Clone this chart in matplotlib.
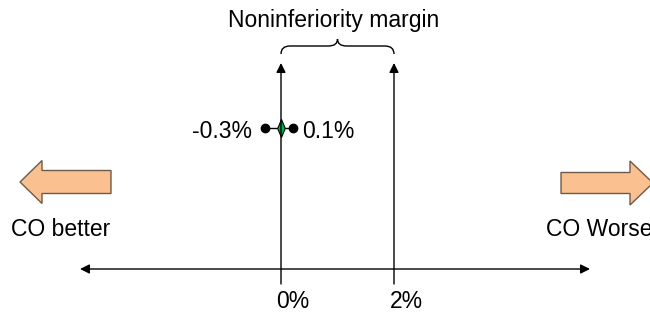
import numpy as np
import matplotlib
matplotlib.use("Agg")
import matplotlib.pyplot as plt
from matplotlib.patches import FancyArrow, PathPatch
from matplotlib.path import Path

plt.rcParams['font.family'] = ['Liberation Sans', 'DejaVu Sans']

# data (x in percent)
tick_values = [0, 2]
tick_labels = ['0%', '2%']
point_estimate = 0.0
ci_positions = [-0.28, 0.21]
ci_labels = ['-0.3%', '0.1%']
margin_label = 'Noninferiority margin'
side_labels = ['CO better', 'CO Worse']

# x: percent, y: pixel rows (inverted)
px_per_pct = 56.5
x0 = 281
fs = 16.5
fig = plt.figure(figsize=(6.5, 3.13), dpi=100)
ax = fig.add_axes([0, 0, 1, 1])
ax.set_xlim(-x0 / px_per_pct, (650 - x0) / px_per_pct)
ax.set_ylim(313, 0)
ax.axis('off')

def pct(px):
    return (px - x0) / px_per_pct

# horizontal axis with arrows at both ends
ax.annotate('', xy=(pct(590), 269), xytext=(pct(80), 269),
            arrowprops=dict(arrowstyle='<|-|>', color='black', lw=1,
                            mutation_scale=14, shrinkA=0, shrinkB=0))

# vertical lines at 0% and 2%
for v, lab in zip(tick_values, tick_labels):
    ax.annotate('', xy=(v, 63), xytext=(v, 284),
                arrowprops=dict(arrowstyle='-|>', color='black', lw=1,
                                mutation_scale=14, shrinkA=0, shrinkB=0))
    ax.text(v - 0.08, 302, lab, fontsize=fs, ha='left', va='center')

# brace over the margin
a, b = tick_values
m = (a + b) / 2
d = 0.16
verts = [(a, 54), (a, 46), (a + d, 46), (m - d, 46), (m, 46), (m, 39),
         (m, 39), (m, 46), (m + d, 46), (b - d, 46), (b, 46), (b, 54)]
codes = [Path.MOVETO, Path.CURVE3, Path.CURVE3, Path.LINETO, Path.CURVE3, Path.CURVE3,
         Path.MOVETO, Path.CURVE3, Path.CURVE3, Path.LINETO, Path.CURVE3, Path.CURVE3]
ax.add_patch(PathPatch(Path(verts, codes), fill=False, lw=1, ec='black'))
ax.text(m - 0.07, 21, margin_label, fontsize=fs, ha='center', va='center')

# confidence interval with point estimate
diamond = Path([(0, 1), (0.42, 0), (0, -1), (-0.42, 0), (0, 1)],
               [Path.MOVETO, Path.LINETO, Path.LINETO, Path.LINETO, Path.CLOSEPOLY])
ax.plot(ci_positions, [128, 128], color='black', lw=1)
ax.plot(ci_positions, [128, 128], 'o', color='black', ms=6)
ax.plot([point_estimate], [128], marker=diamond, ms=13, mfc='#00B050',
        mec='black', mew=0.8)
ax.text(pct(252), 131, ci_labels[0], fontsize=fs, ha='right', va='center')
ax.text(pct(302), 131, ci_labels[1], fontsize=fs, ha='left', va='center')

# block arrows
fill = '#FAC090'
edge = '#6e5a4a'
ax.add_patch(FancyArrow(pct(111), 182, pct(20) - pct(111), 0, width=23,
                        head_width=43, head_length=22 / px_per_pct,
                        length_includes_head=True, fc=fill, ec=edge, lw=1))
ax.add_patch(FancyArrow(pct(561), 183, pct(653) - pct(561), 0, width=21,
                        head_width=44, head_length=23 / px_per_pct,
                        length_includes_head=True, fc=fill, ec=edge, lw=1))
ax.text(pct(11), 229, side_labels[0], fontsize=fs, ha='left', va='center')
ax.text(pct(546), 229, side_labels[1], fontsize=fs, ha='left', va='center')

fig.savefig('out.png', dpi=100)
